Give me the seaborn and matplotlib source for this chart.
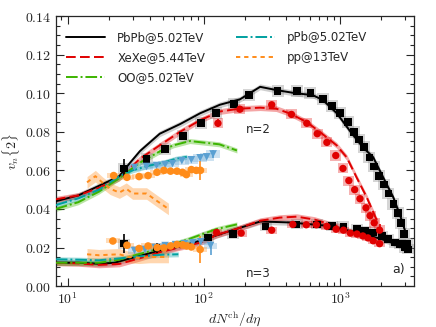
import matplotlib

matplotlib.use("Agg")
import matplotlib.pyplot as plt
import numpy as np
import seaborn as sns
from matplotlib.ticker import FixedLocator, FuncFormatter, MultipleLocator

# ---- model curves, n=2
pb2_x = [8.2, 12, 17, 24, 28.5, 34, 47.5, 67, 94, 131, 184, 259, 342, 470, 630, 750, 946, 1194, 1470, 1750, 2070, 2460, 2790, 3050]
pb2_y = [0.044, 0.047, 0.052, 0.057, 0.0636, 0.070, 0.079, 0.084, 0.0896, 0.094, 0.0968, 0.1033, 0.1016, 0.100, 0.099, 0.0964, 0.0896, 0.080, 0.072, 0.0668, 0.0564, 0.046, 0.0356, 0.027]
xe2_x = [8.2, 12, 17, 24, 34, 47.5, 67, 94, 131, 184, 259, 340, 431, 570, 717, 943, 1120, 1330, 1570, 1820, 1900]
xe2_y = [0.045, 0.047, 0.051, 0.056, 0.066, 0.073, 0.080, 0.086, 0.0905, 0.092, 0.0925, 0.092, 0.0894, 0.085, 0.0797, 0.073, 0.0667, 0.056, 0.046, 0.0356, 0.033]
oo2_x = [8.2, 12, 17, 24, 34, 48, 60, 79, 130, 175]
oo2_y = [0.040, 0.0435, 0.049, 0.056, 0.064, 0.070, 0.073, 0.0752, 0.0735, 0.0703]
pa2_x = [8.2, 12, 17, 24, 30, 40, 50, 62, 75]
pa2_y = [0.042, 0.0455, 0.050, 0.057, 0.060, 0.0625, 0.064, 0.066, 0.067]
pp2_x = [13.9, 16, 18, 20.5, 24, 27, 30, 34, 38, 45, 55]
pp2_y = [0.0538, 0.057, 0.0537, 0.0505, 0.0485, 0.0505, 0.048, 0.048, 0.048, 0.0443, 0.040]

# ---- model curves, n=3
pb3_x = [8.2, 12, 17, 22, 30, 45, 62, 85, 120, 180, 260, 430, 800, 1300, 2000, 3000]
pb3_y = [0.0121, 0.0121, 0.0116, 0.0121, 0.0147, 0.018, 0.020, 0.0226, 0.026, 0.030, 0.0335, 0.033, 0.0313, 0.028, 0.0245, 0.020]
xe3_x = [8.2, 12, 17, 24, 34, 47, 66, 94, 124, 180, 260, 360, 480, 650, 850, 1000]
xe3_y = [0.0121, 0.0118, 0.011, 0.0115, 0.0145, 0.0175, 0.020, 0.0225, 0.0265, 0.030, 0.0339, 0.0355, 0.036, 0.0345, 0.032, 0.031]
oo3_x = [8.2, 12, 17, 24, 33, 45, 77, 123, 175]
oo3_y = [0.0121, 0.0121, 0.0121, 0.0137, 0.0165, 0.019, 0.0243, 0.0295, 0.032]
pa3_x = [8.2, 12, 17, 25, 35, 50, 65]
pa3_y = [0.0139, 0.0137, 0.0134, 0.0145, 0.0155, 0.0163, 0.0165]
pp3_x = [13.9, 17, 20.5, 24, 28, 33.5, 40, 47, 55]
pp3_y = [0.0165, 0.016, 0.0163, 0.0165, 0.0151, 0.0147, 0.0151, 0.0151, 0.0151]

# ---- measurements, n=2
pbd2_x = [26, 38, 52, 70, 95, 123, 166, 214, 348, 482, 605, 750, 875, 1000, 1140, 1270, 1380, 1500, 1640, 1780, 1940, 2110, 2260, 2460, 2650, 2790, 2950, 3100]
pbd2_y = [0.061, 0.066, 0.071, 0.0777, 0.0845, 0.0896, 0.0943, 0.099, 0.101, 0.101, 0.100, 0.097, 0.0933, 0.0896, 0.085, 0.080, 0.076, 0.072, 0.0667, 0.062, 0.057, 0.0526, 0.048, 0.0427, 0.038, 0.0328, 0.027, 0.022]
xed2_x = [127, 184, 315, 440, 570, 680, 800, 930, 1050, 1160, 1280, 1400, 1550, 1660, 1780, 1950]
xed2_y = [0.0844, 0.0917, 0.094, 0.089, 0.0844, 0.079, 0.0745, 0.0677, 0.061, 0.0547, 0.050, 0.0453, 0.0406, 0.0365, 0.0328, 0.029]
pad2_x = [31, 38, 45, 52, 59, 69, 81, 94, 105, 117]
pad2_y = [0.0615, 0.062, 0.0625, 0.063, 0.0635, 0.065, 0.0655, 0.0665, 0.067, 0.0685]
ppd2_x = [21.8, 27.3, 33.5, 39, 45.3, 51, 57, 63.5, 69.7, 74.5, 81, 88, 94.5]
ppd2_y = [0.0573, 0.0564, 0.0568, 0.0573, 0.059, 0.060, 0.0596, 0.0596, 0.059, 0.0578, 0.0604, 0.060, 0.060]

# ---- measurements, n=3
pbd3_x = [26, 45, 107, 163, 284, 480, 674, 869, 1058, 1327, 1527, 1748, 2025, 2254, 2535, 2760, 3004, 3162]
pbd3_y = [0.022, 0.020, 0.0252, 0.027, 0.031, 0.032, 0.032, 0.0313, 0.031, 0.0295, 0.0287, 0.0278, 0.026, 0.0245, 0.0226, 0.0217, 0.020, 0.019]
xed3_x = [124, 188, 315, 450, 565, 670, 800, 935, 1060, 1190, 1330, 1470, 1600, 1750, 1950]
xed3_y = [0.0278, 0.0275, 0.029, 0.032, 0.0318, 0.0318, 0.031, 0.0295, 0.029, 0.0275, 0.027, 0.026, 0.025, 0.0235, 0.022]
pad3_x = [31, 37, 44, 52, 62, 72, 83, 95, 112]
pad3_y = [0.0185, 0.019, 0.020, 0.021, 0.0215, 0.022, 0.0225, 0.023, 0.021]
ppd3_x = [21.5, 27.3, 33.5, 39, 45.5, 51, 57, 63.5, 70, 75, 81, 94]
ppd3_y = [0.0234, 0.0212, 0.0195, 0.0208, 0.020, 0.0198, 0.0208, 0.0216, 0.0214, 0.0208, 0.0203, 0.019]

# statistical errors (only the visible ones)
pbd2_e = [0.0047] + [0.0004] * (len(pbd2_x) - 1)
xed2_e = [0.002] + [0.0004] * (len(xed2_x) - 2) + [0.003]
pad2_e = [0.0005] * (len(pad2_x) - 1) + [0.002]
ppd2_e = [0.0005] * (len(ppd2_x) - 2) + [0.001, 0.005]
pbd3_e = [0.005, 0.0026] + [0.0004] * (len(pbd3_x) - 2)
xed3_e = [0.0004] * len(xed3_x)
pad3_e = [0.0005] * (len(pad3_x) - 1) + [0.0048]
ppd3_e = [0.0005] * (len(ppd3_x) - 1) + [0.0068]

labels = ["PbPb@5.02TeV", "XeXe@5.44TeV", "OO@5.02TeV", "pPb@5.02TeV", "pp@13TeV"]
colors = ["black", "#e00000", "#3cb400", "#00a0a0", "#ff8c1a"]
styles = ["-", (0, (5, 2.2)), (0, (6, 1.5, 1, 1.5)), (0, (6, 1.5, 1, 1.5)), (0, (2.2, 2))]
band_col = ["#777777", "#e00000", "#3cb400", "#00a0a0", "#ff8c1a"]
band_w = [0.0015, 0.0015, 0.0013, 0.0013, 0.003]

sns.set_style("ticks")
plt.rcParams["font.family"] = ["DejaVu Sans"]
plt.rcParams["mathtext.fontset"] = "cm"

fig = plt.figure(figsize=(4.36, 3.27), dpi=100)
ax = fig.add_axes([0.128, 0.125, 0.822, 0.826])
ax.set_xscale("log")

models = [
    (pb2_x, pb2_y, pb3_x, pb3_y),
    (xe2_x, xe2_y, xe3_x, xe3_y),
    (oo2_x, oo2_y, oo3_x, oo3_y),
    (pa2_x, pa2_y, pa3_x, pa3_y),
    (pp2_x, pp2_y, pp3_x, pp3_y),
]
handles = []
for i, (x2, y2, x3, y3) in enumerate(models):
    for xs, ys in [(x2, y2), (x3, y3)]:
        xs = np.array(xs)
        ys = np.array(ys)
        ax.fill_between(xs, ys - band_w[i], ys + band_w[i], color=band_col[i],
                        alpha=0.35, lw=0, zorder=1)
        sns.lineplot(x=xs, y=ys, ax=ax, color=colors[i], linestyle=styles[i],
                     lw=1.4, sort=False, zorder=3, legend=False)
    handles.append(ax.lines[-2])


def syst_boxes(xs, ys, hw, hh, color, alpha):
    xs = np.array(xs)
    ys = np.array(ys)
    left = xs * 10 ** (-hw)
    ax.bar(left, 2 * hh, width=xs * 10 ** hw - left, bottom=ys - hh, align="edge",
           color=color, alpha=alpha, lw=0, zorder=2)


# systematic boxes + points
data = [
    (pbd2_x, pbd2_y, pbd2_e, "black", "s", "#777777", 0.044, 0.003, 30),
    (pbd3_x, pbd3_y, pbd3_e, "black", "s", "#777777", 0.044, 0.0026, 30),
    (xed2_x, xed2_y, xed2_e, "#e00000", "o", "#e00000", 0.04, 0.0026, 28),
    (xed3_x, xed3_y, xed3_e, "#e00000", "o", "#e00000", 0.04, 0.0018, 28),
    (pad2_x, pad2_y, pad2_e, "#5aa0d2", "v", "#5aa0d2", 0.05, 0.002, 30),
    (pad3_x, pad3_y, pad3_e, "#5aa0d2", "v", "#5aa0d2", 0.05, 0.0016, 30),
    (ppd2_x, ppd2_y, ppd2_e, "#ff8c1a", "o", "#ff8c1a", 0.05, 0.0013, 30),
    (ppd3_x, ppd3_y, ppd3_e, "#ff8c1a", "o", "#ff8c1a", 0.05, 0.0013, 30),
]
for xs, ys, es, c, m, bc, hw, hh, s in data:
    syst_boxes(xs, ys, hw, hh, bc, 0.3)
    ax.errorbar(xs, ys, yerr=es, fmt="none", ecolor=c, elinewidth=1.2, zorder=4)
    sns.scatterplot(x=xs, y=ys, ax=ax, color=c, marker=m, s=s, edgecolor="none",
                    zorder=5, legend=False)

ax.set_xlim(8.2, 3500)
ax.set_ylim(0, 0.14)
ax.xaxis.set_major_locator(FixedLocator([10, 100, 1000]))
ax.xaxis.set_major_formatter(FuncFormatter(lambda v, p: r"$10^{%d}$" % round(np.log10(v))))
ax.yaxis.set_major_locator(MultipleLocator(0.02))
ax.yaxis.set_minor_locator(MultipleLocator(0.005))
ax.yaxis.set_major_formatter(FuncFormatter(lambda v, p: r"$%.2f$" % v))
ax.tick_params(which="both", direction="in", top=True, right=True, labelsize=10, width=0.8)
ax.tick_params(which="major", length=6)
ax.tick_params(which="minor", length=3)
for sp in ax.spines.values():
    sp.set_linewidth(0.9)

ax.set_xlabel(r"$dN^{\rm ch}/d\eta$", fontsize=10, labelpad=2)
ax.set_ylabel(r"$v_n\{2\}$", fontsize=10, labelpad=2)

ax.text(250, 0.081, "n=2", fontsize=8.5, ha="center", va="center")
ax.text(250, 0.0068, "n=3", fontsize=8.5, ha="center", va="center")
ax.text(0.975, 0.06, "a)", transform=ax.transAxes, fontsize=9, ha="right", va="center")

ax.legend(handles, labels, ncol=2,
          loc="upper left", bbox_to_anchor=(0.0, 0.985), frameon=False,
          fontsize=8.5, handlelength=3.3, labelspacing=0.6, columnspacing=2.6,
          handletextpad=1.0)

fig.savefig("out.png", dpi=100)
